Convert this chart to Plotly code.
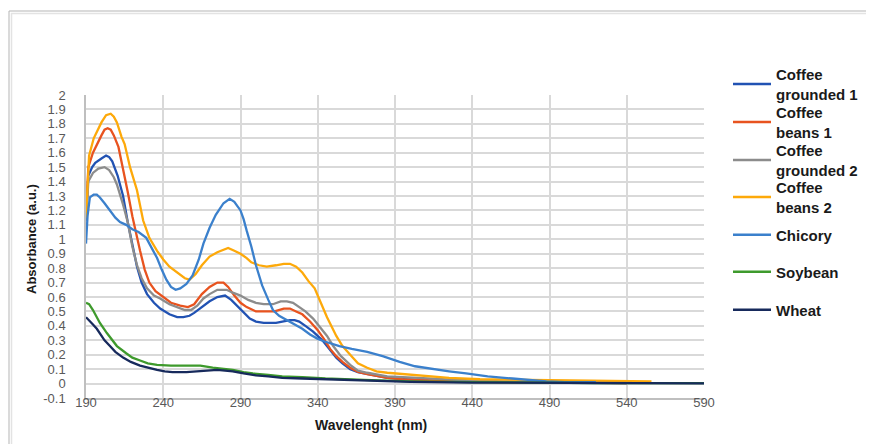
import plotly.graph_objects as go

# ---------------- data ----------------
cg1_x = [190, 191.5, 194, 196, 200, 203, 205, 207, 210.5, 214, 217, 219.5, 223, 226, 229.5, 234, 238, 244, 249, 253, 257, 260, 264, 270, 275, 280, 284, 289.5, 293, 296, 300, 305, 313, 318, 322, 325, 328, 332, 337, 343, 348, 352, 356, 361, 366, 372, 380, 385, 395, 410, 430, 460, 500, 540]
cg1_y = [1.15, 1.44, 1.50, 1.53, 1.56, 1.58, 1.57, 1.54, 1.44, 1.30, 1.12, 0.99, 0.81, 0.70, 0.62, 0.56, 0.52, 0.48, 0.46, 0.46, 0.47, 0.49, 0.52, 0.57, 0.60, 0.61, 0.58, 0.52, 0.48, 0.45, 0.43, 0.42, 0.42, 0.43, 0.44, 0.44, 0.43, 0.40, 0.36, 0.30, 0.23, 0.18, 0.14, 0.10, 0.08, 0.065, 0.05, 0.04, 0.03, 0.02, 0.015, 0.01, 0.005, 0.003]

cb1_x = [190, 191.5, 194.5, 197, 200, 202, 204, 206, 208, 211, 214, 217, 220, 222, 225, 228, 231, 235, 240, 245, 251, 256, 260, 265, 270, 275, 279, 282, 286, 290, 294, 300, 306, 312, 318, 322, 326, 330, 335, 340, 344, 348, 352, 356, 361, 366, 372, 380, 385, 395, 405, 430, 460, 500, 540]
cb1_y = [1.13, 1.50, 1.60, 1.66, 1.72, 1.76, 1.77, 1.76, 1.72, 1.64, 1.49, 1.33, 1.16, 1.06, 0.92, 0.79, 0.70, 0.64, 0.60, 0.56, 0.54, 0.53, 0.55, 0.62, 0.67, 0.70, 0.70, 0.67, 0.61, 0.56, 0.53, 0.50, 0.50, 0.50, 0.52, 0.52, 0.50, 0.48, 0.43, 0.37, 0.31, 0.24, 0.19, 0.15, 0.11, 0.08, 0.065, 0.05, 0.04, 0.03, 0.025, 0.015, 0.01, 0.005, 0.003]

cg2_x = [190, 191.5, 194.5, 198, 202, 205, 208, 210, 214, 217, 220, 223, 226, 229.5, 234, 238, 244, 249, 254, 258, 262, 266, 270, 275, 281, 285, 290, 295, 300, 305, 311, 316, 320, 324, 328, 332, 337, 341, 346, 350, 355, 361, 366, 372, 385, 405, 430, 460, 500, 540]
cg2_y = [1.13, 1.40, 1.46, 1.49, 1.50, 1.48, 1.43, 1.38, 1.24, 1.12, 0.95, 0.82, 0.73, 0.66, 0.61, 0.59, 0.55, 0.53, 0.51, 0.51, 0.54, 0.59, 0.62, 0.65, 0.65, 0.63, 0.61, 0.58, 0.56, 0.55, 0.55, 0.57, 0.57, 0.56, 0.53, 0.50, 0.45, 0.40, 0.33, 0.26, 0.19, 0.13, 0.09, 0.075, 0.05, 0.04, 0.025, 0.015, 0.008, 0.004]

cb2_x = [190, 192, 195, 200, 203, 206, 208, 210, 213, 215, 218.5, 223, 227, 231, 236, 240, 244, 250, 254, 257, 261, 265, 270, 275, 282, 286, 290, 294, 297, 302, 307, 313, 318, 322, 326, 330, 334, 338, 343, 346, 352, 356, 361, 366, 372, 378, 385, 395, 405, 415, 425, 445, 470, 500, 530, 556]
cb2_y = [1.15, 1.58, 1.70, 1.81, 1.86, 1.87, 1.85, 1.81, 1.71, 1.66, 1.50, 1.34, 1.13, 1.01, 0.92, 0.86, 0.81, 0.76, 0.73, 0.72, 0.76, 0.82, 0.88, 0.91, 0.94, 0.92, 0.90, 0.87, 0.84, 0.82, 0.81, 0.82, 0.83, 0.83, 0.81, 0.77, 0.71, 0.66, 0.54, 0.46, 0.33, 0.26, 0.20, 0.14, 0.11, 0.085, 0.075, 0.065, 0.055, 0.045, 0.04, 0.03, 0.025, 0.02, 0.018, 0.015]

chic_x = [190, 191, 192.5, 195, 197, 199, 202, 205.5, 209, 212, 216, 220, 224, 229, 233, 236, 239, 242, 245, 248, 251, 255, 259, 263, 266, 270, 274, 279, 283, 286, 290, 292, 294, 297, 300, 304, 308, 311, 315, 320, 325, 330, 335, 340, 345, 354, 362, 372, 382, 393, 403, 414, 425, 436, 450, 466, 488, 500, 520]
chic_y = [0.97, 1.16, 1.29, 1.31, 1.31, 1.29, 1.25, 1.20, 1.15, 1.12, 1.10, 1.07, 1.05, 1.01, 0.93, 0.87, 0.79, 0.72, 0.67, 0.65, 0.66, 0.69, 0.75, 0.86, 0.97, 1.08, 1.17, 1.25, 1.28, 1.26, 1.20, 1.14, 1.06, 0.95, 0.82, 0.68, 0.58, 0.51, 0.47, 0.44, 0.41, 0.38, 0.34, 0.31, 0.29, 0.26, 0.24, 0.22, 0.19, 0.15, 0.12, 0.10, 0.085, 0.07, 0.05, 0.035, 0.015, 0.01, 0.01]

soy_x = [190, 192, 194.5, 197, 199, 203.5, 207, 210, 216, 220, 225, 230, 236, 245, 255, 264, 272, 280, 285, 292, 298, 308, 317, 330, 345, 370, 400, 440, 480, 520, 590]
soy_y = [0.56, 0.55, 0.51, 0.46, 0.42, 0.35, 0.30, 0.26, 0.21, 0.18, 0.16, 0.14, 0.13, 0.125, 0.125, 0.125, 0.11, 0.10, 0.095, 0.08, 0.07, 0.06, 0.05, 0.045, 0.035, 0.025, 0.015, 0.01, 0.005, 0.003, 0.003]

wheat_x = [190, 192, 194.5, 197, 199, 202, 205.5, 209, 214, 219, 225, 230, 236, 241, 246, 255, 264, 270, 275, 280, 285, 292, 300, 308, 317, 330, 345, 370, 400, 440, 480, 520, 590]
wheat_y = [0.46, 0.44, 0.41, 0.38, 0.35, 0.30, 0.26, 0.22, 0.18, 0.15, 0.125, 0.11, 0.095, 0.085, 0.08, 0.08, 0.085, 0.09, 0.095, 0.09, 0.085, 0.07, 0.057, 0.05, 0.04, 0.035, 0.03, 0.02, 0.012, 0.007, 0.004, 0.002, 0.001]

series_names = ["Coffee<br>grounded 1", "Coffee<br>beans 1", "Coffee<br>grounded 2",
                "Coffee<br>beans 2", "Chicory", "Soybean", "Wheat"]
series_x = [cg1_x, cb1_x, cg2_x, cb2_x, chic_x, soy_x, wheat_x]
series_y = [cg1_y, cb1_y, cg2_y, cb2_y, chic_y, soy_y, wheat_y]
colors = ["#2152b3", "#e8531f", "#8c8c8c", "#fda90a", "#3b80cc", "#3e9a2c", "#172a5c"]

x_ticks = list(range(190, 591, 50))
y_tickvals = [round(-0.1 + 0.1 * i, 1) for i in range(22)]
y_ticktext = ["-0.1", "0"] + ["%g" % v for v in y_tickvals[2:]]

# ---------------- figure ----------------
OFF = 8                      # default page body margin
W, H = 874 - OFF, 444 - OFF
PL, PT, PW, PH = 86, 95, 618, 303   # plot area in screen pixels
L, T = PL - OFF, PT - OFF
R, B = W - L - PW, H - T - PH
FONT = "Liberation Sans, Arial, sans-serif"

def px_x(sx):
    return (sx - PL) / PW

def px_y(sy):
    return (PT + PH - sy) / PH

fig = go.Figure()
legend_centers_px = [84, 122, 160, 197, 235, 272, 310]
for i, (nm, xs, ys, c) in enumerate(zip(series_names, series_x, series_y, colors)):
    lg = "legend" if i == 0 else "legend%d" % (i + 1)
    fig.add_trace(go.Scatter(x=xs, y=ys, mode="lines", name=nm,
                             line=dict(color=c, width=2.3), legend=lg))

legend_common = dict(font=dict(family=FONT, size=15, color="#1a1a1a", weight="bold"),
                     bgcolor="rgba(0,0,0,0)", xanchor="left", yanchor="middle",
                     itemwidth=38, borderwidth=0, tracegroupgap=0)
lay = {}
for i, cy in enumerate(legend_centers_px):
    key = "legend" if i == 0 else "legend%d" % (i + 1)
    d = dict(legend_common)
    d["x"] = px_x(728)
    d["y"] = px_y(cy)
    lay[key] = d

axis_font = dict(family=FONT, size=13, color="#595959")
fig.update_layout(
    width=W, height=H,
    margin=dict(l=L, r=R, t=T, b=B, autoexpand=False),
    paper_bgcolor="white", plot_bgcolor="white",
    showlegend=True,
    **lay,
    xaxis=dict(range=[190, 590], tickvals=x_ticks, ticktext=[str(v) for v in x_ticks],
               showgrid=True, gridcolor="#d9d9d9", gridwidth=1.5,
               showline=True, linecolor="#bfbfbf", linewidth=1.5, automargin=False,
               zeroline=False, tickfont=axis_font, ticks="", ticklabelstandoff=-8),
    yaxis=dict(range=[-0.1, 2.0], tickvals=y_tickvals, ticktext=y_ticktext,
               showgrid=True, gridcolor="#d9d9d9", gridwidth=1.5,
               showline=True, linecolor="#bfbfbf", linewidth=1.5, automargin=False,
               zeroline=False, tickfont=axis_font, ticks="", ticklabelstandoff=16),
    annotations=[
        dict(text="<b>Wavelenght (nm)</b>", xref="paper", yref="paper",
             x=px_x(371), y=px_y(425), xanchor="center", yanchor="middle",
             showarrow=False, font=dict(family=FONT, size=14, color="#1a1a1a")),
        dict(text="<b>Absorbance (a.u.)</b>", xref="paper", yref="paper", textangle=-90,
             x=px_x(31), y=px_y(239), xanchor="center", yanchor="middle",
             showarrow=False, font=dict(family=FONT, size=13, color="#1a1a1a")),
    ],
    shapes=[
        dict(type="rect", xref="paper", yref="paper", layer="below",
             x0=px_x(9), x1=px_x(900), y0=px_y(470), y1=px_y(11),
             line=dict(color="#b5b5b5", width=1)),
        dict(type="rect", xref="paper", yref="paper", layer="below",
             x0=px_x(11.5), x1=px_x(900), y0=px_y(470), y1=px_y(13.5),
             line=dict(color="#e3e3e3", width=1.5)),
    ],
)

fig.write_html("out.html")
